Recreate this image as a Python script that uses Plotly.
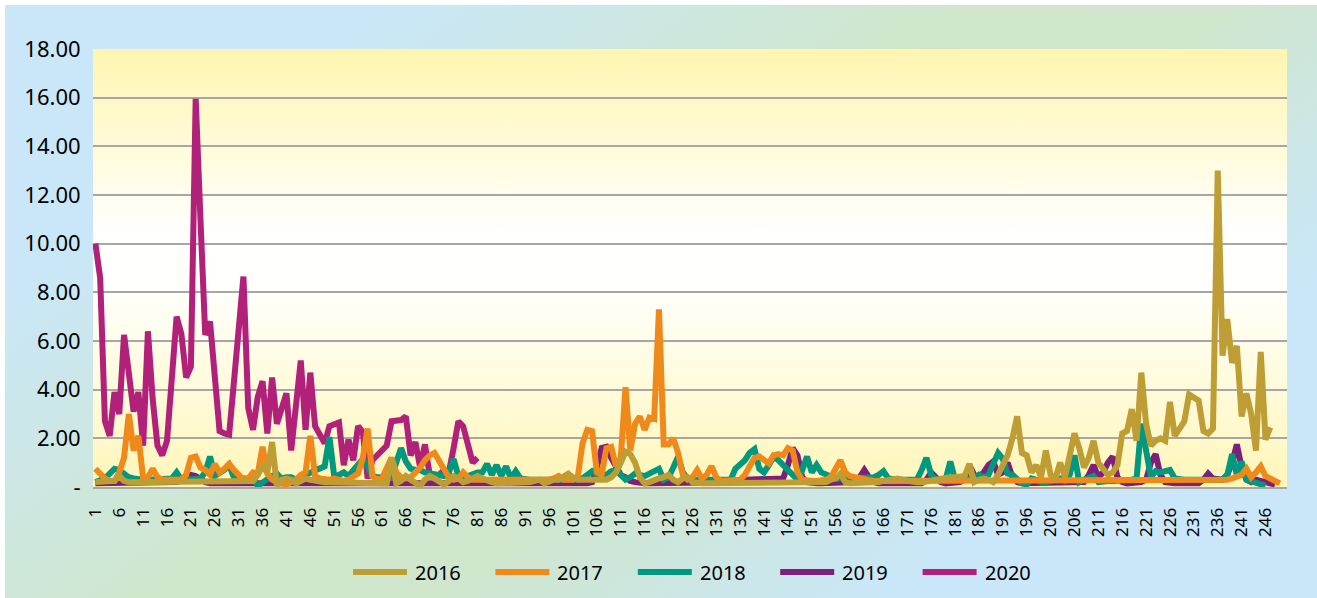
import base64
import plotly.graph_objects as go

# ---------------- data ----------------
categories = list(range(1, 251))
x_tick_values = list(range(1, 247, 5))
y_tick_values = [0, 2, 4, 6, 8, 10, 12, 14, 16, 18]
y_tick_labels = ["-", "2.00", "4.00", "6.00", "8.00", "10.00", "12.00", "14.00", "16.00", "18.00"]
series_names = ["2016", "2017", "2018", "2019", "2020"]

s2016 = [
    0.2, 0.2, 0.2, 0.2, 0.25, 0.45, 0.25, 0.2, 0.2, 0.2,
    0.2, 0.2, 0.2, 0.2, 0.2, 0.2, 0.2, 0.2, 0.2, 0.2,
    0.2, 0.2, 0.2, 0.2, 0.2, 0.2, 0.2, 0.2, 0.2, 0.2,
    0.2, 0.2, 0.2, 0.25, 0.5, 0.85, 0.6, 1.85, 0.05, 0.3,
    0.35, 0.3, 0.15, 0.25, 0.35, 0.3, 0.25, 0.2, 0.2, 0.2,
    0.2, 0.2, 0.15, 0.15, 0.2, 0.2, 0.2, 0.2, 0.15, 0.15,
    0.15, 0.15, 1.2, 0.15, 0.25, 0.45, 0.3, 0.15, 0.05, 0.3,
    0.45, 0.35, 0.2, 0.1, 0.25, 0.45, 0.35, 0.2, 0.25, 0.35,
    0.45, 0.35, 0.25, 0.2, 0.15, 0.15, 0.15, 0.15, 0.15, 0.2,
    0.2, 0.2, 0.25, 0.3, 0.15, 0.25, 0.3, 0.3, 0.4, 0.55,
    0.4, 0.3, 0.3, 0.3, 0.35, 0.35, 0.3, 0.3, 0.4, 0.6,
    1.0, 1.45, 1.35, 1.0, 0.4, 0.15, 0.2, 0.3, 0.35, 0.4,
    0.5, 0.3, 0.2, 0.35, 0.4, 0.2, 0.15, 0.15, 0.15, 0.15,
    0.15, 0.15, 0.15, 0.15, 0.15, 0.15, 0.15, 0.15, 0.15, 0.15,
    0.15, 0.15, 0.15, 0.15, 0.15, 0.15, 0.15, 0.15, 0.15, 0.15,
    0.15, 0.15, 0.15, 0.2, 0.3, 0.35, 0.55, 0.2, 0.15, 0.15,
    0.15, 0.15, 0.15, 0.2, 0.2, 0.25, 0.3, 0.35, 0.35, 0.3,
    0.25, 0.2, 0.2, 0.2, 0.2, 0.25, 0.3, 0.35, 0.4, 0.4,
    0.4, 0.4, 0.45, 0.95, 0.2, 0.3, 0.35, 0.3, 0.2, 0.5,
    0.9, 1.3, 2.0, 2.9, 1.4, 1.3, 0.6, 0.9, 0.4, 1.5,
    0.5, 0.35, 1.0, 0.4, 1.3, 2.2, 1.6, 0.8, 1.2, 1.9,
    1.0, 0.7, 0.5, 0.6, 0.9, 2.2, 2.3, 3.2, 1.9, 4.7,
    2.6, 1.7, 1.9, 2.0, 1.9, 3.5, 2.1, 2.4, 2.7, 3.8,
    3.7, 3.55, 2.3, 2.2, 2.4, 13.0, 5.4, 6.9, 5.1, 5.8,
    2.9, 3.85, 3.0, 1.5, 5.55, 1.95, 2.45,
]

s2017 = [
    0.75, 0.55, 0.35, 0.25, 0.25, 0.6, 1.2, 3.0, 1.5, 2.1,
    0.35, 0.4, 0.75, 0.4, 0.3, 0.3, 0.3, 0.3, 0.3, 0.5,
    1.2, 1.25, 0.8, 0.7, 0.5, 0.95, 0.6, 0.75, 0.95, 0.7,
    0.45, 0.3, 0.35, 0.6, 0.55, 1.65, 0.55, 0.3, 0.2, 0.15,
    0.1, 0.2, 0.3, 0.5, 0.6, 2.1, 0.45, 0.35, 0.3, 0.3,
    0.35, 0.3, 0.25, 0.3, 0.4, 0.55, 1.2, 2.4, 0.45, 0.3,
    0.35, 0.8, 1.2, 0.6, 0.4, 0.35, 0.4, 0.6, 0.8, 1.1,
    1.3, 1.4, 1.1, 0.7, 0.4, 0.3, 0.35, 0.6, 0.4, 0.3,
    0.3, 0.25, 0.3, 0.3, 0.25, 0.3, 0.3, 0.25, 0.3, 0.3,
    0.3, 0.25, 0.25, 0.3, 0.3, 0.3, 0.35, 0.45, 0.3, 0.3,
    0.3, 0.4, 1.8, 2.35, 2.3, 0.6, 0.5, 1.6, 1.65, 0.85,
    1.2, 4.1, 1.5, 2.6, 2.9, 2.35, 2.85, 2.8, 7.3, 1.75,
    1.75, 2.0, 1.4, 0.5, 0.3, 0.4, 0.7, 0.35, 0.5, 0.85,
    0.4, 0.25, 0.25, 0.25, 0.25, 0.3, 0.5, 0.85, 1.2, 1.25,
    1.1, 0.97, 1.3, 1.35, 1.3, 1.6, 1.5, 0.6, 0.3, 0.25,
    0.25, 0.25, 0.25, 0.3, 0.4, 0.8, 1.1, 0.6, 0.45, 0.4,
    0.35, 0.3, 0.3, 0.25, 0.25, 0.25, 0.25, 0.25, 0.25, 0.25,
    0.25, 0.25, 0.25, 0.25, 0.25, 0.25, 0.25, 0.25, 0.25, 0.25,
    0.25, 0.25, 0.25, 0.25, 0.25, 0.25, 0.25, 0.25, 0.25, 0.25,
    0.25, 0.25, 0.25, 0.25, 0.25, 0.25, 0.25, 0.25, 0.25, 0.25,
    0.25, 0.25, 0.25, 0.25, 0.25, 0.25, 0.25, 0.25, 0.25, 0.25,
    0.25, 0.25, 0.25, 0.25, 0.25, 0.25, 0.25, 0.25, 0.25, 0.3,
    0.3, 0.3, 0.3, 0.3, 0.3, 0.3, 0.3, 0.3, 0.3, 0.3,
    0.3, 0.3, 0.3, 0.3, 0.3, 0.3, 0.3, 0.3, 0.35, 0.4,
    0.5, 0.75, 0.4, 0.6, 0.85, 0.45, 0.35, 0.3, 0.15,
]

s2018 = [
    0.2, 0.3, 0.35, 0.55, 0.75, 0.7, 0.55, 0.4, 0.35, 0.3,
    0.3, 0.3, 0.3, 0.3, 0.3, 0.3, 0.35, 0.6, 0.3, 0.3,
    0.3, 0.3, 0.35, 0.6, 1.25, 0.45, 0.55, 0.7, 0.9, 0.4,
    0.35, 0.35, 0.35, 0.35, 0.05, 0.2, 0.3, 0.45, 0.55, 0.35,
    0.4, 0.4, 0.3, 0.35, 0.5, 0.6, 0.7, 0.75, 0.85, 2.05,
    0.45, 0.5, 0.6, 0.45, 0.7, 1.0, 1.15, 0.85, 0.45, 0.4,
    0.4, 0.35, 0.4, 1.0, 1.6, 1.05, 0.75, 0.7, 0.7, 0.6,
    0.55, 0.5, 0.45, 0.45, 0.6, 1.15, 0.45, 0.4, 0.45, 0.55,
    0.6, 0.6, 0.95, 0.5, 0.9, 0.45, 0.85, 0.35, 0.65, 0.35,
    0.3, 0.3, 0.3, 0.3, 0.25, 0.25, 0.25, 0.25, 0.25, 0.3,
    0.3, 0.3, 0.35, 0.5, 0.65, 0.5, 0.4, 0.5, 0.65, 0.7,
    0.45, 0.3, 0.4, 0.55, 0.5, 0.45, 0.55, 0.65, 0.75, 0.3,
    0.4, 0.8, 1.25, 0.6, 0.35, 0.3, 0.3, 0.3, 0.3, 0.3,
    0.3, 0.3, 0.3, 0.3, 0.75, 0.95, 1.1, 1.4, 1.55, 0.75,
    0.6, 0.9, 1.25, 1.1, 0.9, 0.7, 0.45, 0.3, 0.7, 1.25,
    0.6, 0.9, 0.6, 0.5, 0.45, 0.35, 0.35, 0.35, 0.35, 0.35,
    0.35, 0.35, 0.35, 0.4, 0.5, 0.65, 0.35, 0.3, 0.3, 0.3,
    0.3, 0.3, 0.3, 0.7, 1.2, 0.5, 0.3, 0.3, 0.3, 1.05,
    0.3, 0.3, 0.3, 0.3, 0.35, 0.5, 0.4, 0.5, 1.0, 1.4,
    1.15, 0.55, 0.5, 0.35, 0.15, 0.1, 0.35, 0.3, 0.2, 0.2,
    0.25, 0.3, 0.35, 0.25, 0.5, 1.3, 0.2, 0.3, 0.35, 0.45,
    0.2, 0.25, 0.25, 0.25, 0.25, 0.3, 0.3, 0.3, 0.35, 2.6,
    1.5, 0.4, 0.65, 0.6, 0.65, 0.7, 0.35, 0.3, 0.3, 0.3,
    0.3, 0.3, 0.3, 0.3, 0.3, 0.3, 0.3, 0.5, 1.35, 0.5,
    1.05, 0.3, 0.25, 0.2, 0.15, 0.05,
]

s2019 = [
    0.15, 0.15, 0.15, 0.15, 0.15, 0.15, 0.15, 0.15, 0.15, 0.15,
    0.15, 0.15, 0.15, 0.15, 0.15, 0.15, 0.15, 0.2, 0.3, 0.4,
    0.5, 0.45, 0.3, 0.2, 0.15, 0.15, 0.15, 0.15, 0.15, 0.15,
    0.15, 0.15, 0.15, 0.15, 0.1, 0.1, 0.15, 0.15, 0.15, 0.15,
    0.15, 0.15, 0.15, 0.15, 0.15, 0.15, 0.15, 0.15, 0.15, 0.15,
    0.15, 0.15, 0.15, 0.15, 0.15, 0.15, 0.15, 0.15, 0.15, 0.15,
    0.15, 0.15, 0.15, 0.15, 0.15, 0.15, 0.15, 0.15, 0.15, 0.15,
    0.15, 0.15, 0.15, 0.15, 0.15, 0.15, 0.15, 0.15, 0.15, 0.15,
    0.15, 0.15, 0.15, 0.15, 0.15, 0.15, 0.15, 0.15, 0.15, 0.15,
    0.15, 0.15, 0.15, 0.15, 0.15, 0.15, 0.15, 0.15, 0.15, 0.15,
    0.15, 0.15, 0.15, 0.15, 0.2, 0.8, 1.6, 1.65, 1.2, 0.85,
    0.5, 0.4, 0.25, 0.2, 0.15, 0.15, 0.15, 0.15, 0.15, 0.15,
    0.15, 0.15, 0.15, 0.15, 0.15, 0.15, 0.15, 0.15, 0.15, 0.15,
    0.15, 0.15, 0.15, 0.15, 0.15, 0.2, 0.3, 0.3, 0.3, 0.3,
    0.3, 0.3, 0.3, 0.3, 0.35, 0.9, 1.6, 1.3, 0.4, 0.2,
    0.15, 0.15, 0.15, 0.15, 0.15, 0.15, 0.15, 0.15, 0.15, 0.2,
    0.4, 0.7, 0.4, 0.2, 0.15, 0.15, 0.15, 0.15, 0.15, 0.15,
    0.15, 0.15, 0.15, 0.15, 0.3, 0.6, 0.4, 0.2, 0.15, 0.15,
    0.15, 0.2, 0.3, 0.9, 0.5, 0.4, 0.6, 0.9, 1.05, 0.5,
    0.6, 1.0, 0.4, 0.2, 0.15, 0.15, 0.15, 0.15, 0.15, 0.15,
    0.15, 0.15, 0.15, 0.15, 0.15, 0.15, 0.15, 0.2, 0.5, 0.9,
    0.4, 0.6, 1.0, 1.25, 0.4, 0.2, 0.15, 0.15, 0.15, 0.2,
    0.3, 1.0, 1.35, 0.5, 0.2, 0.15, 0.15, 0.15, 0.15, 0.15,
    0.15, 0.15, 0.3, 0.55, 0.35, 0.3, 0.3, 0.5, 1.0, 1.75,
    0.8, 0.3, 0.2, 0.3, 0.25, 0.2, 0.1, 0.1,
]

s2020 = [
    10.0, 8.6, 2.7, 2.1, 3.9, 3.0, 6.25, 4.4, 3.1, 3.9,
    1.7, 6.4, 3.6, 1.7, 1.3, 1.9, 4.4, 7.0, 6.3, 4.5,
    4.95, 15.95, 11.0, 6.25, 6.8, 4.5, 2.3, 2.2, 2.15, 4.3,
    6.5, 8.65, 3.25, 2.35, 3.7, 4.35, 2.2, 4.5, 2.6, 3.2,
    3.85, 1.5, 3.3, 5.2, 2.35, 4.7, 2.5, 2.15, 1.8, 2.5,
    2.6, 2.65, 0.9, 1.95, 1.1, 2.5, 2.25, 0.35, 1.1, 1.3,
    1.5, 1.7, 2.7, 2.7, 2.75, 2.9, 1.3, 1.85, 0.8, 1.75,
    0.5, 0.4, 0.5, 0.7, 0.6, 1.6, 2.7, 2.5, 1.7, 1.0,
    1.2,
]

series_values = [s2016, s2017, s2018, s2019, s2020]
series_colors = ["#bf9d35", "#ef8a1a", "#00997f", "#7d1f7b", "#b12079"]

# ---------------- backgrounds (SVG gradients) ----------------
def svg_uri(svg):
    return "data:image/svg+xml;base64," + base64.b64encode(svg.encode()).decode()

# figure occupies page area from (5,5) to (1317,598)
W, H = 1312, 593
L, R, T, B = 88, 30, 44, 111
pw, ph = W - L - R, H - T - B

paper_svg = (
    f'<svg xmlns="http://www.w3.org/2000/svg" width="{W}" height="{H}" viewBox="0 0 {W} {H}" preserveAspectRatio="none">'
    '<defs><linearGradient id="g" x1="0" y1="0.2" x2="1" y2="0.8">'
    '<stop offset="0" stop-color="#c9e7f9"/>'
    '<stop offset="0.12" stop-color="#c9e7f9"/>'
    '<stop offset="0.45" stop-color="#d0e7cb"/>'
    '<stop offset="0.6" stop-color="#cfe6cd"/>'
    '<stop offset="0.85" stop-color="#c9e7f9"/>'
    '<stop offset="1" stop-color="#c9e7f9"/>'
    '</linearGradient></defs>'
    f'<rect width="{W}" height="{H}" fill="url(#g)"/></svg>'
)

plot_svg = (
    f'<svg xmlns="http://www.w3.org/2000/svg" width="{pw}" height="{ph}" viewBox="0 0 {pw} {ph}" preserveAspectRatio="none">'
    '<defs><linearGradient id="p" x1="0" y1="0" x2="0" y2="1">'
    '<stop offset="0" stop-color="#fff5b0"/>'
    '<stop offset="0.42" stop-color="#fffffd"/>'
    '<stop offset="0.55" stop-color="#fffffb"/>'
    '<stop offset="1" stop-color="#fff6ba"/>'
    '</linearGradient></defs>'
    f'<rect width="{pw}" height="{ph}" fill="url(#p)"/></svg>'
)

fig = go.Figure()

# draw later years first so 2016 is on top
for idx in [4, 3, 2, 1, 0]:
    vals = series_values[idx]
    fig.add_trace(go.Scatter(
        x=categories[:len(vals)],
        y=vals,
        mode="lines",
        name=series_names[idx],
        showlegend=False,
        line=dict(color=series_colors[idx], width=6),
        hoverinfo="x+y+name",
    ))

# ---------------- legend (drawn as shapes + text below the plot) ----------------
def px_to_paper_x(fx):
    return (fx - L) / pw

def px_to_paper_y(fy):
    return (H - B - fy) / ph

legend_y = px_to_paper_y(567)
legend_step = 142.4
shapes = []
annotations = []
for i, name in enumerate(series_names):
    sx0 = 348 + legend_step * i
    shapes.append(dict(
        type="line", xref="paper", yref="paper",
        x0=px_to_paper_x(sx0), x1=px_to_paper_x(sx0 + 54),
        y0=legend_y, y1=legend_y,
        line=dict(color=series_colors[i], width=6),
        layer="above",
    ))
    annotations.append(dict(
        text=name, xref="paper", yref="paper",
        x=px_to_paper_x(sx0 + 60), y=legend_y,
        xanchor="left", yanchor="middle", showarrow=False,
        font=dict(family="Noto Sans", size=20, color="#000000"),
    ))

fig.update_layout(
    width=W,
    height=H,
    margin=dict(l=L, r=R, t=T, b=B, pad=0),
    paper_bgcolor="#cde7e4",
    plot_bgcolor="#fffbe0",
    font=dict(family="Noto Sans", color="#000000"),
    showlegend=False,
    shapes=shapes,
    annotations=annotations,
    images=[
        dict(
            source=svg_uri(paper_svg), xref="paper", yref="paper",
            x=-L / pw, y=1 + T / ph,
            sizex=W / pw, sizey=H / ph,
            xanchor="left", yanchor="top", sizing="stretch", layer="below",
        ),
        dict(
            source=svg_uri(plot_svg), xref="paper", yref="paper",
            x=0, y=1, sizex=1, sizey=1,
            xanchor="left", yanchor="top", sizing="stretch", layer="below",
        ),
    ],
)

fig.update_xaxes(
    range=[0.5, 250.5],
    tickmode="array",
    tickvals=x_tick_values,
    ticktext=[str(v) for v in x_tick_values],
    tickangle=-90,
    tickfont=dict(family="Noto Sans", size=17, color="#000000"),
    ticks="outside", ticklen=12, tickcolor="rgba(0,0,0,0)",
    showgrid=False,
    zeroline=False,
    showline=True, linecolor="#a6a6a6", linewidth=2,
)

fig.update_yaxes(
    range=[0, 18],
    tickmode="array",
    tickvals=y_tick_values,
    ticktext=y_tick_labels,
    tickfont=dict(family="Noto Sans", size=22, color="#000000"),
    ticks="outside", ticklen=7, tickcolor="rgba(0,0,0,0)",
    showgrid=True, gridcolor="#a6a6a6", gridwidth=2,
    zeroline=False,
    showline=False,
)

fig.write_html(
    "out.html",
    post_script="document.body.style.margin='5px 0 0 5px'; document.body.style.overflow='hidden';",
)
